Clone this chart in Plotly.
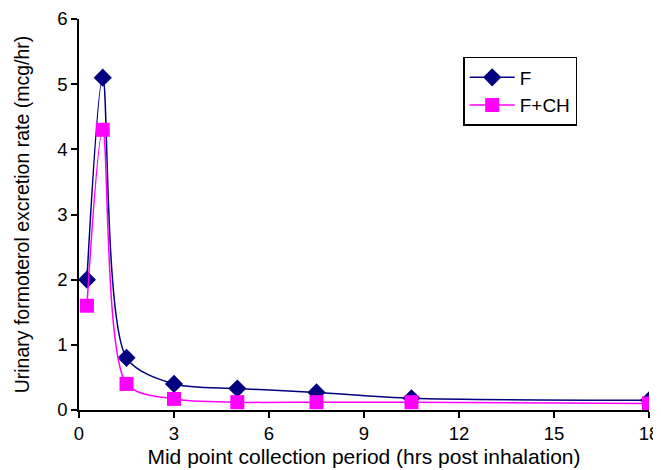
import plotly.graph_objects as go

x_vals = [0.25, 0.75, 1.5, 3, 5, 7.5, 10.5, 18]
f_vals = [2.0, 5.1, 0.8, 0.4, 0.33, 0.27, 0.18, 0.15]
fch_vals = [1.6, 4.3, 0.4, 0.17, 0.12, 0.12, 0.12, 0.1]
x_ticks = [0, 3, 6, 9, 12, 15, 18]
y_ticks = [0, 1, 2, 3, 4, 5, 6]

FONT = "Liberation Sans, Arial, sans-serif"

fig = go.Figure()
fig.add_trace(go.Scatter(
    x=x_vals, y=f_vals, name="F", mode="lines+markers",
    line=dict(color="#000080", width=1.5, shape="spline", smoothing=0.8),
    marker=dict(symbol="diamond", size=14, color="#000080"),
))
fig.add_trace(go.Scatter(
    x=x_vals, y=fch_vals, name="F+CH", mode="lines+markers",
    line=dict(color="#FF00FF", width=1.5, shape="spline", smoothing=0.8),
    marker=dict(symbol="square", size=14, color="#FF00FF"),
))

axis_common = dict(
    showgrid=False, zeroline=False, showline=True, linecolor="black", linewidth=1.5,
    ticks="outside", ticklen=6, tickcolor="black", tickwidth=1.5, automargin=False,
    tickfont=dict(family=FONT, size=18.5, color="black"),
)
fig.update_layout(
    width=653, height=462,
    margin=dict(l=71, r=12, t=11, b=60),
    paper_bgcolor="white", plot_bgcolor="white",
    font=dict(family=FONT, color="black"),
    xaxis=dict(range=[0, 18], tickvals=x_ticks,
               title=dict(text="Mid point collection period (hrs post inhalation)",
                          font=dict(size=21), standoff=6),
               **axis_common),
    yaxis=dict(range=[0, 6], tickvals=y_ticks,
               title=dict(text="Urinary formoterol excretion rate (mcg/hr)",
                          font=dict(size=19.5), standoff=22),
               **axis_common),
    legend=dict(x=0.674, y=0.903, xanchor="left", yanchor="top",
                bordercolor="black", borderwidth=1.5, bgcolor="white",
                font=dict(size=19), tracegroupgap=2, itemwidth=45),
    showlegend=True,
)
fig.write_html("out.html")
